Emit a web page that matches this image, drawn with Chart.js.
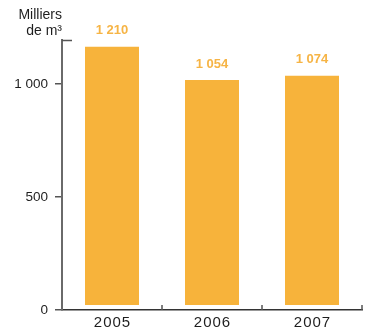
<!DOCTYPE html>
<html>
<head>
<meta charset="utf-8">
<script src="https://cdn.jsdelivr.net/npm/chart.js@4"></script>
<style>
html,body{margin:0;padding:0;background:#fff;}
#wrap{width:369px;height:334px;position:relative;}
</style>
</head>
<body>
<div id="wrap"><canvas id="c" width="369" height="334"></canvas></div>
<script>
const categories = ['2005', '2006', '2007'];
const values = [1210, 1054, 1074];
const valueLabels = ['1 210', '1 054', '1 074'];
const yTicks = [0, 500, 1000];
const unitLines = ['Milliers', 'de m³'];

const BAR = '#F7B33B';
const LABEL = '#F6B445';
const INK = '#1e1e1e';
const FONT = '"Liberation Sans", Arial, sans-serif';

function fmt(v){ return String(v).replace(/\B(?=(\d{3})+(?!\d))/g, ' '); }

const extras = {
  id: 'extras',
  afterDraw(chart){
    const {ctx, chartArea: a, scales: {x}} = chart;
    ctx.save();
    // axis cap and inner ticks
    ctx.strokeStyle = '#555';
    ctx.lineWidth = 1.5;
    ctx.beginPath();
    ctx.moveTo(a.left, a.top + 0.5); ctx.lineTo(a.left + 10, a.top + 0.5);
    for (let i = 0; i < categories.length - 1; i++) {
      const bx = Math.round((x.getPixelForValue(i) + x.getPixelForValue(i + 1)) / 2);
      ctx.moveTo(bx, a.bottom); ctx.lineTo(bx, a.bottom - 5);
    }
    ctx.moveTo(a.right, a.bottom); ctx.lineTo(a.right, a.bottom - 5);
    ctx.stroke();
    // unit label
    ctx.fillStyle = INK;
    ctx.font = '14px ' + FONT;
    ctx.textAlign = 'right';
    ctx.textBaseline = 'middle';
    ctx.fillText(unitLines[0], a.left, 15);
    ctx.fillText(unitLines[1], a.left, 31);
    // x labels
    ctx.font = '15px ' + FONT;
    ctx.textAlign = 'center';
    try { ctx.letterSpacing = '1px'; } catch(e){}
    categories.forEach((c, i) => {
      ctx.fillText(c, x.getPixelForValue(i) + 0.5, 323);
    });
    try { ctx.letterSpacing = '0px'; } catch(e){}
    // value labels
    const meta = chart.getDatasetMeta(0);
    ctx.fillStyle = LABEL;
    ctx.font = 'bold 13px ' + FONT;
    meta.data.forEach((bar, i) => {
      ctx.fillText(valueLabels[i], bar.x, bar.y - 16);
    });
    ctx.restore();
  }
};

new Chart(document.getElementById('c'), {
  type: 'bar',
  data: {
    labels: categories,
    datasets: [{
      data: values,
      yAxisID: 'yBar',
      backgroundColor: BAR,
      borderWidth: 0,
      categoryPercentage: 1,
      barPercentage: 0.54
    }]
  },
  options: {
    responsive: false,
    animation: false,
    events: [],
    layout: { padding: { top: 40, right: 7, left: 0, bottom: 0 } },
    plugins: { legend: { display: false }, tooltip: { enabled: false } },
    scales: {
      x: {
        type: 'category',
        offset: true,
        grid: { display: false },
        border: { display: true, color: '#333', width: 1.5 },
        ticks: { display: false },
        afterFit(s){ s.height = 24; }
      },
      y: {
        type: 'linear',
        position: 'left',
        min: 0,
        max: 1195,
        afterBuildTicks(s){ s.ticks = yTicks.map(v => ({ value: v })); },
        grid: { display: true, drawOnChartArea: false, drawTicks: true, tickLength: 7, color: '#555', lineWidth: 1.5 },
        border: { display: true, color: '#6a6a6a', width: 2 },
        ticks: {
          padding: 7,
          color: INK,
          font: { family: FONT, size: 13.5 },
          callback: v => fmt(v)
        },
        afterFit(s){ s.width = 62; }
      },
      yBar: {
        type: 'linear',
        display: false,
        min: -23.4,
        max: 1242
      }
    }
  },
  plugins: [extras]
});
</script>
</body>
</html>
